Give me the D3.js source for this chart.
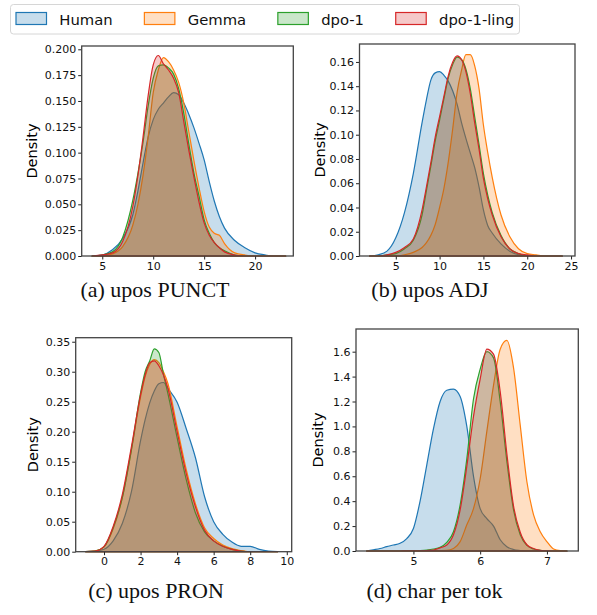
<!DOCTYPE html>
<html>
<head>
<meta charset="UTF-8">
<title>KDE of linguistic features</title>
<script src="https://d3js.org/d3.v7.min.js"></script>
<style>
  body { margin: 0; background: #fff; }
  svg { display: block; }
</style>
</head>
<body>
<script>
const seriesNames = ["Human", "Gemma", "dpo-1", "dpo-1-ling"];
const seriesColors = ["#1f77b4", "#ff7f0e", "#2ca02c", "#d62728"];

// (a) upos PUNCT
const punctX = [4, 5, 6, 7, 8, 8.5, 9, 9.5, 10, 10.5, 11, 11.5, 12, 12.5, 13, 13.5, 14, 14.5, 15, 15.5, 16, 16.5, 17, 18, 19, 20, 21, 22, 23];
const punctHuman = [0, 0.001, 0.006, 0.017, 0.04, 0.063, 0.09, 0.115, 0.132, 0.142, 0.148, 0.154, 0.158, 0.156, 0.148, 0.137, 0.124, 0.109, 0.093, 0.072, 0.053, 0.038, 0.027, 0.015, 0.008, 0.003, 0.001, 0, 0];
const punctGemma = [0, 0, 0.002, 0.009, 0.03, 0.05, 0.078, 0.115, 0.158, 0.18, 0.192, 0.188, 0.18, 0.168, 0.148, 0.12, 0.092, 0.066, 0.043, 0.028, 0.022, 0.02, 0.012, 0.003, 0.001, 0, 0, 0, 0];
const punctDpo1 = [0, 0.001, 0.004, 0.018, 0.054, 0.08, 0.11, 0.145, 0.172, 0.184, 0.185, 0.182, 0.176, 0.162, 0.138, 0.108, 0.08, 0.058, 0.035, 0.022, 0.013, 0.008, 0.005, 0.001, 0, 0, 0, 0, 0];
const punctDpo1Ling = [0, 0.001, 0.003, 0.014, 0.048, 0.078, 0.115, 0.155, 0.185, 0.194, 0.186, 0.18, 0.172, 0.158, 0.13, 0.102, 0.076, 0.052, 0.032, 0.02, 0.013, 0.008, 0.004, 0.001, 0, 0, 0, 0, 0];
const punctXTicks = [5, 10, 15, 20];
const punctYTicks = [0, 0.025, 0.05, 0.075, 0.1, 0.125, 0.15, 0.175, 0.2];

// (b) upos ADJ
const adjX = [2, 3, 4, 5, 6, 7, 8, 8.5, 9, 9.5, 10, 10.5, 11, 11.5, 12, 12.5, 13, 13.5, 14, 14.5, 15, 15.5, 16, 17, 18, 19, 20, 21, 22, 23, 24];
const adjHuman = [0, 0.001, 0.004, 0.015, 0.036, 0.068, 0.11, 0.129, 0.145, 0.151, 0.152, 0.149, 0.144, 0.136, 0.125, 0.11, 0.097, 0.085, 0.073, 0.057, 0.038, 0.025, 0.019, 0.01, 0.004, 0.001, 0, 0, 0, 0, 0];
const adjGemma = [0, 0, 0, 0, 0.001, 0.003, 0.007, 0.011, 0.017, 0.026, 0.04, 0.056, 0.078, 0.105, 0.135, 0.153, 0.166, 0.166, 0.157, 0.138, 0.108, 0.085, 0.065, 0.034, 0.016, 0.006, 0.002, 0.001, 0, 0, 0];
const adjDpo1 = [0, 0, 0.001, 0.002, 0.006, 0.013, 0.034, 0.054, 0.074, 0.095, 0.112, 0.13, 0.147, 0.158, 0.164, 0.162, 0.154, 0.138, 0.115, 0.092, 0.068, 0.05, 0.036, 0.017, 0.006, 0.002, 0, 0, 0, 0, 0];
const adjDpo1Ling = [0, 0, 0.001, 0.003, 0.007, 0.014, 0.038, 0.057, 0.077, 0.098, 0.115, 0.132, 0.149, 0.16, 0.165, 0.162, 0.152, 0.134, 0.11, 0.088, 0.064, 0.047, 0.034, 0.016, 0.006, 0.002, 0.001, 0, 0, 0, 0];
const adjXTicks = [5, 10, 15, 20, 25];
const adjYTicks = [0, 0.02, 0.04, 0.06, 0.08, 0.1, 0.12, 0.14, 0.16];

// (c) upos PRON
const pronX = [-1, -0.5, 0, 0.5, 1, 1.5, 2, 2.25, 2.5, 2.75, 3, 3.25, 3.5, 4, 4.5, 5, 5.5, 6, 6.5, 7, 7.5, 8, 8.5, 9, 9.5];
const pronHuman = [0, 0.001, 0.004, 0.018, 0.047, 0.1, 0.185, 0.22, 0.248, 0.268, 0.28, 0.282, 0.272, 0.249, 0.205, 0.157, 0.092, 0.05, 0.029, 0.016, 0.009, 0.009, 0.004, 0.001, 0];
const pronGemma = [0, 0.001, 0.008, 0.038, 0.09, 0.17, 0.258, 0.292, 0.312, 0.32, 0.315, 0.3, 0.28, 0.208, 0.137, 0.08, 0.04, 0.022, 0.011, 0.005, 0.002, 0, 0, 0, 0];
const pronDpo1 = [0, 0.001, 0.008, 0.04, 0.09, 0.17, 0.265, 0.3, 0.318, 0.338, 0.332, 0.296, 0.263, 0.19, 0.12, 0.065, 0.033, 0.018, 0.009, 0.004, 0.001, 0, 0, 0, 0];
const pronDpo1Ling = [0, 0.001, 0.009, 0.042, 0.095, 0.175, 0.262, 0.295, 0.315, 0.318, 0.31, 0.295, 0.272, 0.2, 0.13, 0.075, 0.036, 0.018, 0.009, 0.004, 0.001, 0, 0, 0, 0];
const pronXTicks = [0, 2, 4, 6, 8, 10];
const pronYTicks = [0, 0.05, 0.1, 0.15, 0.2, 0.25, 0.3, 0.35];

// (d) char per tok
const charX = [4.3, 4.4, 4.5, 4.6, 4.7, 4.8, 4.9, 5.0, 5.1, 5.2, 5.3, 5.4, 5.5, 5.6, 5.7, 5.8, 5.9, 6.0, 6.1, 6.2, 6.3, 6.4, 6.5, 6.6, 6.7, 6.8, 6.9, 7.0, 7.1, 7.2, 7.3];
const charHuman = [0, 0.01, 0.02, 0.035, 0.048, 0.062, 0.1, 0.18, 0.4, 0.69, 0.98, 1.2, 1.29, 1.3, 1.24, 1.0, 0.6, 0.34, 0.26, 0.2, 0.09, 0.035, 0.012, 0.004, 0, 0, 0, 0, 0, 0, 0];
const charGemma = [0, 0, 0, 0, 0, 0, 0, 0, 0, 0.001, 0.002, 0.003, 0.005, 0.02, 0.075, 0.21, 0.34, 0.58, 0.96, 1.33, 1.62, 1.69, 1.47, 1.01, 0.556, 0.29, 0.155, 0.075, 0.016, 0.003, 0];
const charDpo1 = [0, 0, 0, 0, 0, 0, 0.001, 0.002, 0.004, 0.008, 0.016, 0.03, 0.07, 0.155, 0.37, 0.74, 1.22, 1.46, 1.6, 1.55, 1.2, 0.72, 0.33, 0.13, 0.045, 0.016, 0.005, 0, 0, 0, 0];
const charDpo1Ling = [0, 0, 0, 0, 0, 0, 0.001, 0.001, 0.002, 0.004, 0.008, 0.025, 0.048, 0.13, 0.33, 0.68, 1.08, 1.38, 1.62, 1.58, 1.28, 0.78, 0.36, 0.15, 0.05, 0.02, 0.006, 0.001, 0, 0, 0];
const charXTicks = [5, 6, 7];
const charYTicks = [0, 0.2, 0.4, 0.6, 0.8, 1.0, 1.2, 1.4, 1.6];

const panels = [
  { caption: "(a) upos PUNCT", xs: punctX, ys: [punctHuman, punctGemma, punctDpo1, punctDpo1Ling],
    xTicks: punctXTicks, yTicks: punctYTicks, yFmt: ".3f",
    xDomain: [2.98, 23.75], yMax: 0.2032,
    left: 81.7, right: 293.3, top: 46, bottom: 256, labelX: 31.7, capX: 155, capY: 297 },
  { caption: "(b) upos ADJ", xs: adjX, ys: [adjHuman, adjGemma, adjDpo1, adjDpo1Ling],
    xTicks: adjXTicks, yTicks: adjYTicks, yFmt: ".2f",
    xDomain: [0.86, 25.45], yMax: 0.1748,
    left: 359.5, right: 575, top: 44, bottom: 256, labelX: 319.5, capX: 430, capY: 297 },
  { caption: "(c) upos PRON", xs: pronX, ys: [pronHuman, pronGemma, pronDpo1, pronDpo1Ling],
    xTicks: pronXTicks, yTicks: pronYTicks, yFmt: ".2f",
    xDomain: [-1.55, 10.27], yMax: 0.3567,
    left: 75.7, right: 291.7, top: 337.7, bottom: 551.7, labelX: 33.3, capX: 156, capY: 598 },
  { caption: "(d) char per tok", xs: charX, ys: [charHuman, charGemma, charDpo1, charDpo1Ling],
    xTicks: charXTicks, yTicks: charYTicks, yFmt: ".1f",
    xDomain: [4.14, 7.47], yMax: 1.782,
    left: 356, right: 578.3, top: 329, bottom: 551, labelX: 318.3, capX: 434.5, capY: 598 }
];

const svg = d3.select("body").append("svg")
  .attr("width", 597).attr("height", 615);

const sans = "'DejaVu Sans', sans-serif";
const serif = "'Liberation Serif', 'Times New Roman', serif";

panels.forEach(p => {
  const x = d3.scaleLinear().domain(p.xDomain).range([p.left, p.right]);
  const y = d3.scaleLinear().domain([0, p.yMax]).range([p.bottom, p.top]);
  const g = svg.append("g");

  const area = d3.area()
    .x((d, i) => x(p.xs[i]))
    .y0(y(0))
    .y1(d => y(d))
    .curve(d3.curveMonotoneX);

  // seaborn-like: fill with alpha, outline in full colour, Human drawn first
  p.ys.forEach((vals, k) => {
    g.append("path")
      .datum(vals)
      .attr("d", area)
      .attr("fill", seriesColors[k])
      .attr("fill-opacity", 0.25)
      .attr("stroke", seriesColors[k])
      .attr("stroke-width", 1.2)
      .attr("stroke-linejoin", "round");
  });

  const xAxis = g.append("g")
    .attr("transform", `translate(0,${p.bottom})`)
    .call(d3.axisBottom(x).tickValues(p.xTicks).tickFormat(d3.format("d")).tickSize(3.5).tickPadding(2.5));
  const yAxis = g.append("g")
    .attr("transform", `translate(${p.left},0)`)
    .call(d3.axisLeft(y).tickValues(p.yTicks).tickFormat(d3.format(p.yFmt)).tickSize(3.5).tickPadding(2));

  [xAxis, yAxis].forEach(a => {
    a.select(".domain").remove();
    a.selectAll("line").attr("stroke", "#222");
    a.selectAll("text").attr("font-family", sans).attr("font-size", 11).attr("fill", "#111");
  });

  // spines
  g.append("rect")
    .attr("x", p.left).attr("y", p.top)
    .attr("width", p.right - p.left).attr("height", p.bottom - p.top)
    .attr("fill", "none").attr("stroke", "#444").attr("stroke-width", 1.3);

  g.append("text")
    .attr("transform", `translate(${p.labelX},${(p.top + p.bottom) / 2}) rotate(-90)`)
    .attr("text-anchor", "middle")
    .attr("dominant-baseline", "central")
    .attr("font-family", sans).attr("font-size", 14.5)
    .text("Density");

  svg.append("text")
    .attr("x", p.capX).attr("y", p.capY)
    .attr("text-anchor", "middle")
    .attr("font-family", serif).attr("font-size", 22)
    .attr("fill", "#111")
    .text(p.caption);
});

// legend across the top
const legend = svg.append("g");
legend.append("rect")
  .attr("x", 10.5).attr("y", 4.5).attr("width", 509).attr("height", 29.5)
  .attr("rx", 3).attr("fill", "#fff").attr("stroke", "#d6d6d6").attr("stroke-width", 1);

let lx = 16;
seriesNames.forEach((name, k) => {
  legend.append("rect")
    .attr("x", lx).attr("y", 12.5).attr("width", 30.5).attr("height", 12)
    .attr("fill", seriesColors[k]).attr("fill-opacity", 0.25)
    .attr("stroke", seriesColors[k]).attr("stroke-width", 1.2);
  const t = legend.append("text")
    .attr("x", lx + 43.3).attr("y", 25)
    .attr("font-family", sans).attr("font-size", 14.8)
    .attr("fill", "#111")
    .text(name);
  lx += 43.3 + t.node().getComputedTextLength() + 31.7;
});
</script>
</body>
</html>
